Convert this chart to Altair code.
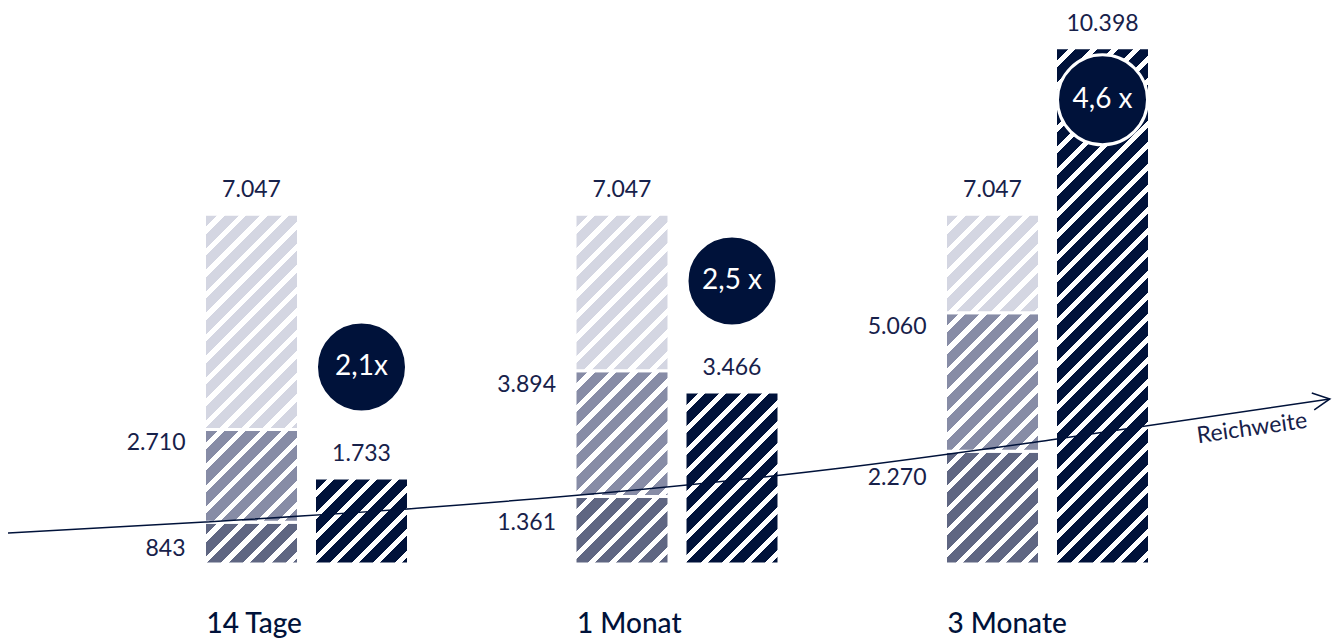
import altair as alt
import pandas as pd

# ---------------- data ----------------
groups = ["14 Tage", "1 Monat", "3 Monate"]
lower_vals = [843, 1361, 2270]
middle_vals = [2710, 3894, 5060]
total_vals = [7047, 7047, 7047]
reach_vals = [1733, 3466, 10398]
factor_labels = ["2,1x", "2,5 x", "4,6 x"]

# "Reichweite" arrow (x in group-position units, y in value units)
arrow_pos = [-0.806, -0.274, 0.306, 1.467, 2.007, 2.762]
arrow_val = [624, 846, 1128, 1954, 2498, 3324]
arrow_label = "Reichweite"
arrow_label_pos = [2.552]
arrow_label_val = [2730]

# ---------------- styles ----------------
NAVY = "#00123a"
TEXT = "#17214a"
C_LIGHT = "#d4d6e2"
C_MID = "#878ca6"
C_LOW = "#5f6682"
FONT = "Lato"

Y_MAX = 11200
Y_PX = 556
PX_PER_UNIT = Y_PX / Y_MAX
BAR_W = 94
OFF = 55
badge_dy = [-111, -111, 52]

yscale = alt.Scale(domain=[0, Y_MAX], range=[Y_PX, 0])
xscale = alt.Scale(domain=groups, range=[113.25, 1224.75], paddingInner=0, paddingOuter=0)
pscale = alt.Scale(domain=[-1, 3], range=[298.5 - 370.5, 298.5 + 3 * 370.5])


def de(v):
    return f"{v:,}".replace(",", ".")


def stripes(color, h, w=BAR_W, period=21.5, frac=0.66):
    L = w + h
    k = L / (w * w + h * h)
    stops = []
    c = 0.0
    while c < L - 1e-9:
        a = c / L
        b = min((c + frac * period) / L, 1.0)
        e = min((c + period) / L, 1.0)
        stops += [
            alt.GradientStop(offset=a, color=color),
            alt.GradientStop(offset=b, color=color),
            alt.GradientStop(offset=b, color="white"),
            alt.GradientStop(offset=e, color="white"),
        ]
        c += period
    return alt.LinearGradient(gradient="linear", stops=stops,
                              x1=0, y1=0, x2=k * w, y2=k * h)


X = alt.X("group:N", scale=xscale, axis=None, sort=groups)

layers = []

# ---------------- bars ----------------
segments = []
for i, g in enumerate(groups):
    segments += [
        (g, 0, lower_vals[i], C_LOW, -OFF),
        (g, lower_vals[i], middle_vals[i], C_MID, -OFF),
        (g, middle_vals[i], total_vals[i], C_LIGHT, -OFF),
        (g, 0, reach_vals[i], NAVY, OFF),
    ]
for g, lo, hi, col, off in segments:
    d = pd.DataFrame({"group": [g], "lo": [lo], "hi": [hi]})
    h = (hi - lo) * PX_PER_UNIT
    layers.append(
        alt.Chart(d).mark_bar(width=BAR_W, xOffset=off, fill=stripes(col, h),
                              stroke="white", strokeWidth=3).encode(
            x=X,
            y=alt.Y("hi:Q", scale=yscale, axis=None),
            y2="lo:Q",
        )
    )

# ---------------- arrow ----------------
arrow_df = pd.DataFrame({"p": arrow_pos, "v": arrow_val})
PX = alt.X("p:Q", scale=pscale, axis=None)
PY = alt.Y("v:Q", scale=yscale, axis=None)
layers.append(
    alt.Chart(arrow_df).mark_line(color=NAVY, strokeWidth=1.5, interpolate="monotone")
    .encode(x=PX, y=PY)
)
layers.append(
    alt.Chart(arrow_df.tail(1)).mark_point(
        shape="M -1 -0.5 L 0 0 L -1 0.5", size=1156, filled=False,
        stroke=NAVY, strokeWidth=1.5, opacity=1, angle=351.7)
    .encode(x=PX, y=PY)
)
layers.append(
    alt.Chart(pd.DataFrame({"p": arrow_label_pos, "v": arrow_label_val, "t": [arrow_label]}))
    .mark_text(angle=352, fontSize=23, font=FONT, color=TEXT, align="center", baseline="middle")
    .encode(x=PX, y=PY, text="t:N")
)

# ---------------- value labels ----------------
lab = pd.DataFrame({
    "group": groups,
    "total": total_vals, "total_t": [de(v) for v in total_vals],
    "mid": middle_vals, "mid_t": [de(v) for v in middle_vals],
    "low": lower_vals, "low_t": [de(v) for v in lower_vals],
    "reach": reach_vals, "reach_t": [de(v) for v in reach_vals],
})
base = alt.Chart(lab)
txt = dict(font=FONT, fontSize=23, color=TEXT, baseline="middle")
layers.append(base.mark_text(xOffset=-OFF, dy=-24, align="center", **txt).encode(
    x=X, y=alt.Y("total:Q", scale=yscale, axis=None), text="total_t:N"))
layers.append(base.mark_text(xOffset=OFF, dy=-24, align="center", **txt).encode(
    x=X, y=alt.Y("reach:Q", scale=yscale, axis=None), text="reach_t:N"))
layers.append(base.mark_text(xOffset=-121, dy=14, align="right", **txt).encode(
    x=X, y=alt.Y("mid:Q", scale=yscale, axis=None), text="mid_t:N"))
layers.append(base.mark_text(xOffset=-121, dy=27, align="right", **txt).encode(
    x=X, y=alt.Y("low:Q", scale=yscale, axis=None), text="low_t:N"))

# category labels
layers.append(base.mark_text(xOffset=-100, dy=69, align="left", baseline="alphabetic",
                             font=FONT, fontSize=28, fontWeight=500, color=NAVY).encode(
    x=X, y=alt.Y("zero:Q", scale=yscale, axis=None), text="group:N")
    .transform_calculate(zero="0"))

# ---------------- factor badges ----------------
for i, g in enumerate(groups):
    d = pd.DataFrame({"group": [g], "reach": [reach_vals[i]], "f": [factor_labels[i]]})
    layers.append(
        alt.Chart(d).mark_circle(size=8100, fill=NAVY, opacity=1, stroke="white",
                                 strokeWidth=3, xOffset=OFF, yOffset=badge_dy[i])
        .encode(x=X, y=alt.Y("reach:Q", scale=yscale, axis=None))
    )
    layers.append(
        alt.Chart(d).mark_text(xOffset=OFF, dy=badge_dy[i], font=FONT, fontSize=28,
                               color="white", align="center", baseline="middle")
        .encode(x=X, y=alt.Y("reach:Q", scale=yscale, axis=None), text="f:N")
    )

chart = (
    alt.layer(*layers)
    .resolve_scale(x="independent")
    .properties(width=1324, height=634, autosize="none", padding=0, background="white")
    .configure_view(stroke=None)
)

chart.save("out.html", embed_options={"renderer": "svg", "actions": False})
